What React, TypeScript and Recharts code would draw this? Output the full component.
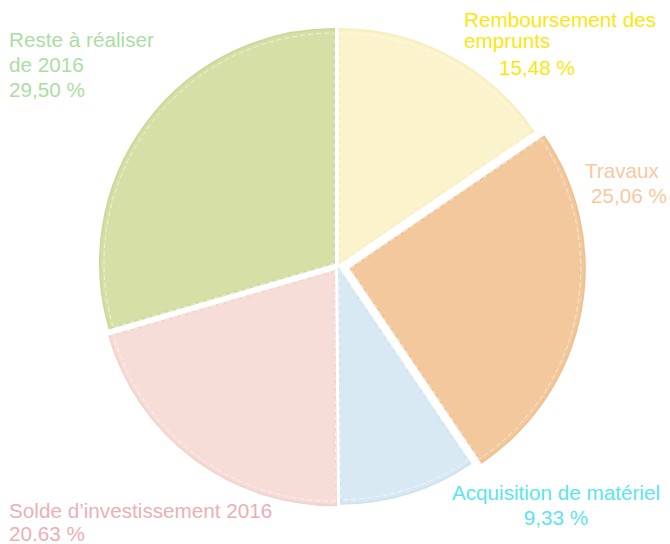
import { PieChart, Pie, Cell } from 'recharts';

const categories = [
  'Remboursement des emprunts',
  'Travaux',
  'Acquisition de matériel',
  "Solde d’investissement 2016",
  'Reste à réaliser de 2016',
];
const shares = [15.48, 25.06, 9.33, 20.63, 29.5];
const labelLines = [
  ['Remboursement des', 'emprunts', '15,48 %'],
  ['Travaux', '25,06 %'],
  ['Acquisition de matériel', '9,33 %'],
  ['Solde d’investissement 2016', '20.63 %'],
  ['Reste à réaliser', 'de 2016', '29,50 %'],
];

const fills = ['#fbf3cb', '#f3c89c', '#d8e9f4', '#f6ddd8', '#d5dfa6'];
const rims = ['#f7eec0', '#f0c193', '#cfe3f0', '#f2d3cd', '#cdd89b'];
const textColors = ['#fde60f', '#f9c8a1', '#5ae5f1', '#eab0b6', '#acdda3'];
// how far each slice is pulled out from the centre
const explode = [3.5, 13, 4, 6.5, 5];

const CX = 338;
const CY = 266;
const R = 234;

const data = categories.map((name, i) => ({ name, value: shares[i] }));

const total = shares.reduce((a, b) => a + b, 0);
const midAngles = shares.map((v, i) => {
  const before = shares.slice(0, i).reduce((a, b) => a + b, 0);
  return 90 - (360 * (before + v / 2)) / total;
});

// label layout
const labelY = [[27, 48, 75], [178, 203], [500, 525], [518, 541], [47, 72, 97]];
const labelX = [[464, 464, 499], [585, 591], [556, 556], [9, 9], [9, 9, 9]];
const labelAnchor = ['start', 'start', 'middle', 'start', 'start'];

const App = () => {
  return (
    <div style={{ position: 'absolute', left: 0, top: 0, width: 670, height: 544 }}>
      <PieChart width={670} height={544} margin={{ top: 0, right: 0, bottom: 0, left: 0 }}>
        {data.map((_, i) => {
          const rad = (midAngles[i] * Math.PI) / 180;
          const cx = CX + explode[i] * Math.cos(rad);
          const cy = CY - explode[i] * Math.sin(rad);
          return (
            <Pie
              key={'s' + i}
              data={data}
              dataKey="value"
              cx={cx}
              cy={cy}
              outerRadius={R}
              startAngle={90}
              endAngle={-270}
              isAnimationActive={false}
            >
              {data.map((_, j) => (
                <Cell
                  key={j}
                  fill={j === i ? fills[i] : 'transparent'}
                  stroke={j === i ? rims[i] : 'none'}
                  strokeWidth={2}
                />
              ))}
            </Pie>
          );
        })}
        {data.map((_, i) => {
          const rad = (midAngles[i] * Math.PI) / 180;
          const cx = CX + explode[i] * Math.cos(rad);
          const cy = CY - explode[i] * Math.sin(rad);
          return (
            <Pie
              key={'d' + i}
              data={data}
              dataKey="value"
              cx={cx}
              cy={cy}
              outerRadius={R - 4}
              startAngle={90}
              endAngle={-270}
              isAnimationActive={false}
            >
              {data.map((_, j) => (
                <Cell
                  key={j}
                  fill="none"
                  stroke={j === i ? 'rgba(255,255,255,0.75)' : 'none'}
                  strokeWidth={0.8}
                  strokeDasharray="5 3"
                />
              ))}
            </Pie>
          );
        })}
      </PieChart>
      <svg width={670} height={544} style={{ position: 'absolute', left: 0, top: 0, pointerEvents: 'none' }}>
        {labelLines.map((lines, i) =>
          lines.map((line, k) => (
            <text
              key={i + '-' + k}
              x={labelX[i][k]}
              y={labelY[i][k]}
              textAnchor={labelAnchor[i] as 'start' | 'middle'}
              fill={textColors[i]}
              fontFamily="'Liberation Sans', Arial, sans-serif"
              fontSize={20.7}
            >
              {line}
            </text>
          ))
        )}
      </svg>
    </div>
  );
};

export default App;
